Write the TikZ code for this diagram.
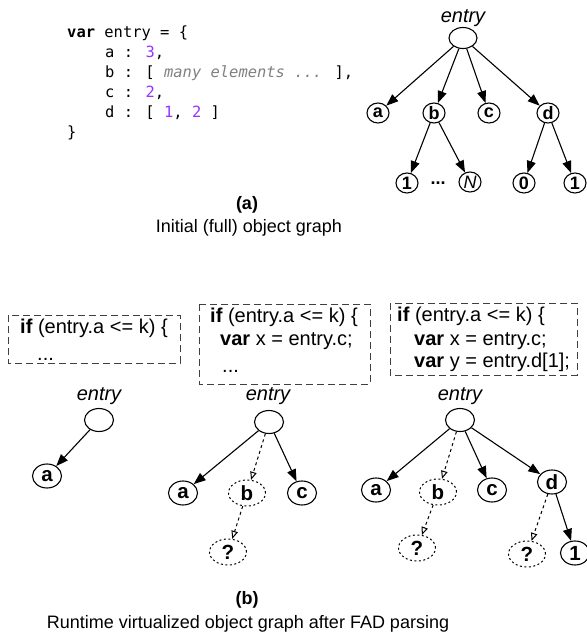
\documentclass[tikz,border=0pt]{standalone}
\usepackage{fontspec}
\setmainfont{Liberation Sans}
\newfontfamily\codefont{DejaVu Sans Mono}
\usetikzlibrary{shapes.geometric,arrows.meta}
\definecolor{numpurple}{RGB}{153,51,255}
\definecolor{cmtgray}{RGB}{128,128,128}
\newcommand{\fsz}[1]{\fontsize{#1}{#1}\selectfont}
\begin{document}
\begin{tikzpicture}[x=1pt,y=-1pt,
  objA/.style={ellipse,draw,line width=1.1pt,inner sep=0pt,minimum width=22pt,minimum height=20pt,font=\bfseries\fsz{18}},
  objB/.style={ellipse,draw,line width=1.1pt,inner sep=0pt,minimum width=29pt,minimum height=24pt,font=\bfseries\fsz{20.5}},
  rootA/.style={ellipse,draw,line width=1.1pt,inner sep=0pt,minimum width=28pt,minimum height=21pt},
  rootB/.style={ellipse,draw,line width=1.1pt,inner sep=0pt,minimum width=29pt,minimum height=23pt},
  virt/.style={ellipse,draw,dash pattern=on 2pt off 2.5pt,line width=1pt,inner sep=0pt,minimum width=37pt,minimum height=26pt,font=\bfseries\fsz{20.5}},
  lbl/.style={font=\itshape\fsz{20},inner sep=0pt},
  codeln/.style={anchor=base west,inner sep=0pt,font=\codefont\fsz{15.45}},
  boxln/.style={anchor=base west,inner sep=0pt,font=\fsz{20}},
  captxt/.style={inner sep=0pt,font=\fsz{18}},
  captitle/.style={inner sep=0pt,font=\bfseries\fsz{18}},
  boxline/.style={draw=black!75,line width=1pt,dash pattern=on 7pt off 4pt},
  arr/.style={line width=1.1pt,-{Triangle[length=12pt,width=9pt]}},
  varr/.style={line width=1pt,dash pattern=on 3pt off 3pt,-{Triangle[open,length=8pt,width=6.5pt]}}
]
\useasboundingbox (0,0) rectangle (587,641);

% ---------- (a) code ----------
\node[codeln] (c1) at (67,37) {\textbf{var} entry = \{};
\node[codeln] (c2) at (105,57) {a : \textcolor{numpurple}{3},};
\node[codeln] (c3) at (105,77) {b : [ \textcolor{cmtgray}{\itshape many elements ...} ],};
\node[codeln] (c4) at (105,97) {c : \textcolor{numpurple}{2},};
\node[codeln] (c5) at (105,117) {d : [ \textcolor{numpurple}{1}, \textcolor{numpurple}{2} ]};
\node[codeln] (c6) at (67,137) {\}};

% ---------- (a) tree ----------
\node[lbl] (Albl) at (463,18) {entry};
\node[rootA] (Ae) at (463,38) {};
\node[objA] (Aa) at (378,113) {a};
\node[objA] (Ab) at (434,113) {b};
\node[objA] (Ac) at (489,113) {c};
\node[objA] (Ad) at (548,113) {d};
\node[objA] (Ab1) at (407,183) {1};
\node[inner sep=0pt,font=\bfseries\fsz{18}] (Adots) at (438,183) {...};
\node[objA,font=\itshape\fsz{18}] (AbN) at (470,182) {N};
\node[objA] (Ad0) at (524,183) {0};
\node[objA] (Ad1) at (575,183) {1};
\draw[arr] (Ae) -- (Aa);
\draw[arr] (Ae) -- (Ab);
\draw[arr] (Ae) -- (Ac);
\draw[arr] (Ae) -- (Ad);
\draw[arr] (Ab) -- (Ab1);
\draw[arr] (Ab) -- (AbN);
\draw[arr] (Ad) -- (Ad0);
\draw[arr] (Ad) -- (Ad1);

\node[captitle] (capa) at (247,205) {(a)};
\node[captxt] (capa2) at (249,228) {Initial (full) object graph};

% ---------- (b) boxes ----------
\draw[boxline] (8,315) rectangle (180,363);
\node[boxln] (b1l1) at (20,333) {\textbf{if} (entry.a <= k) \{};
\node[boxln] (b1l2) at (37,360) {...};

\draw[boxline] (199,304) rectangle (370,384);
\node[boxln] (b2l1) at (210,322) {\textbf{if} (entry.a <= k) \{};
\node[boxln] (b2l2) at (220,345) {\textbf{var} x = entry.c;};
\node[boxln] (b2l3) at (222,372) {...};

\draw[boxline] (390,303) rectangle (577,375);
\node[boxln] (b3l1) at (397,321) {\textbf{if} (entry.a <= k) \{};
\node[boxln] (b3l2) at (414,345) {\textbf{var} x = entry.c;};
\node[boxln] (b3l3) at (414,367) {\textbf{var} y = entry.d[1];};

% ---------- (b) tree 1 ----------
\node[lbl] (B1lbl) at (99,396) {entry};
\node[rootB] (B1e) at (99,420) {};
\node[objB] (B1a) at (47,476) {a};
\draw[arr] (B1e) -- (B1a);

% ---------- (b) tree 2 ----------
\node[lbl] (B2lbl) at (268,396) {entry};
\node[rootB] (B2e) at (269,422) {};
\node[objB] (B2a) at (183,493) {a};
\node[virt] (B2b) at (247,493) {b};
\node[objB] (B2c) at (302,493) {c};
\node[virt] (B2q) at (228,552) {?};
\draw[arr] (B2e) -- (B2a);
\draw[varr] (B2e) -- (B2b);
\draw[arr] (B2e) -- (B2c);
\draw[varr] (B2b) -- (B2q);

% ---------- (b) tree 3 ----------
\node[lbl] (B3lbl) at (460,396) {entry};
\node[rootB] (B3e) at (460,420) {};
\node[objB] (B3a) at (376,490) {a};
\node[virt] (B3b) at (438,492) {b};
\node[objB] (B3c) at (492,490) {c};
\node[objB] (B3d) at (552,482) {d};
\node[virt] (B3q1) at (417,548) {?};
\node[virt] (B3q2) at (527,554) {?};
\node[objB] (B3d1) at (575,553) {1};
\draw[arr] (B3e) -- (B3a);
\draw[varr] (B3e) -- (B3b);
\draw[arr] (B3e) -- (B3c);
\draw[arr] (B3e) -- (B3d);
\draw[varr] (B3b) -- (B3q1);
\draw[varr] (B3d) -- (B3q2);
\draw[arr] (B3d) -- (B3d1);

\node[captitle] (capb) at (247,600) {(b)};
\node[captxt] (capb2) at (248,624) {Runtime virtualized object graph after FAD parsing};
\end{tikzpicture}
\end{document}
